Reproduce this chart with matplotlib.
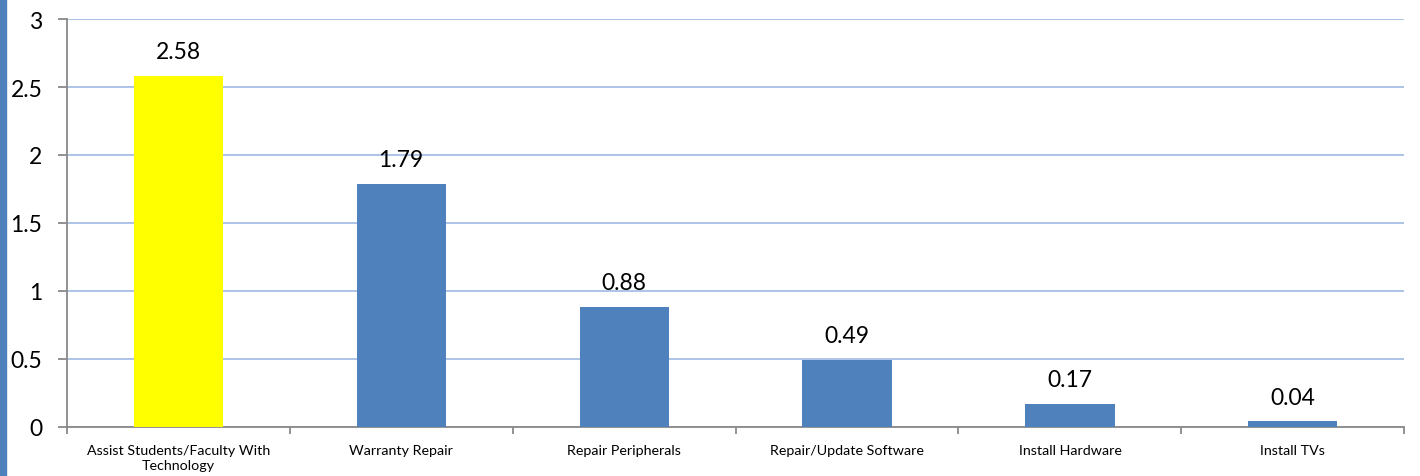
import matplotlib
matplotlib.use('Agg')
import matplotlib.pyplot as plt
from matplotlib.patches import Rectangle
import numpy as np

plt.rcParams['font.family'] = ['Lato', 'DejaVu Sans']

BLUE = "#4F81BD"
YELLOW = "#FFFF00"
GRID = "#A7BFE6"
SPINE = "#898989"

categories = ["Assist Students/Faculty With\nTechnology", "Warranty Repair",
              "Repair Peripherals", "Repair/Update Software",
              "Install Hardware", "Install TVs"]
values = [2.58, 1.79, 0.88, 0.49, 0.17, 0.04]
bar_colors = [YELLOW, BLUE, BLUE, BLUE, BLUE, BLUE]
yticks = [0, 0.5, 1, 1.5, 2, 2.5, 3]
ytick_labels = ['0', '0.5', '1', '1.5', '2', '2.5', '3']

fig = plt.figure(figsize=(14.2, 4.77), dpi=100, facecolor='white')
ax = fig.add_axes([0.047, 0.103, 0.942, 0.855])

x = np.arange(len(categories))
ax.bar(x, values, width=0.4, color=bar_colors, zorder=3)

for xi, v in zip(x, values):
    ax.annotate(f'{v:.2f}', xy=(xi, v), xytext=(0, 10), textcoords='offset points',
                ha='center', va='bottom', fontsize=16.5, color='black')

ax.set_xlim(-0.5, len(categories) - 0.5)
ax.set_ylim(0, 3)
ax.set_yticks(yticks)
ax.set_yticklabels(ytick_labels, fontsize=16.5)
ax.yaxis.grid(True, color=GRID, lw=1.3, zorder=0)

ax.set_xticks(x)
ax.set_xticklabels(categories, fontsize=10.3, linespacing=1.3)
ax.tick_params(axis='x', length=0, pad=12)
ax.set_xticks(np.arange(len(categories) + 1) - 0.5, minor=True)
ax.tick_params(axis='x', which='minor', length=5, color=SPINE, width=1.3)
ax.tick_params(axis='y', length=6.5, color=SPINE, width=1.3, pad=11)

for side in ['top', 'right']:
    ax.spines[side].set_visible(False)
for side in ['left', 'bottom']:
    ax.spines[side].set_color(SPINE)
    ax.spines[side].set_linewidth(1.3)

# blue strip at the left edge
fig.patches.append(Rectangle((0, 0), 6 / 1420, 1, transform=fig.transFigure,
                             color=BLUE, zorder=0))

fig.savefig('out.png', dpi=100, facecolor='white')
